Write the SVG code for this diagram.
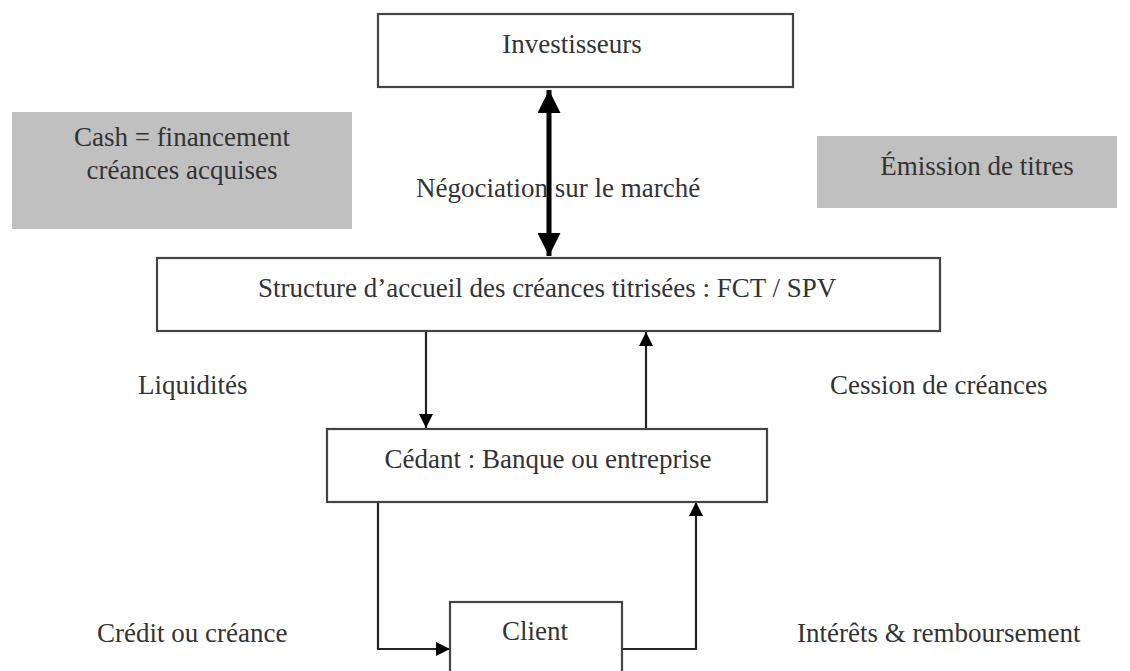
<svg xmlns="http://www.w3.org/2000/svg" width="1130" height="671" viewBox="0 0 1130 671">
  <style>
    .box { fill: #ffffff; stroke: #444444; stroke-width: 2.2; }
    .shade { fill: #c0c0c0; stroke: none; }
    .t { font-family: "Liberation Serif", "Times New Roman", serif; font-size: 27px; fill: #333333; }
    .c { text-anchor: middle; }
    .line { fill: none; stroke: #222222; stroke-width: 2.2; }
    .thick { fill: none; stroke: #000000; stroke-width: 5; }
  </style>
  <defs>
    <marker id="arrow" viewBox="0 0 10 10" refX="10" refY="5" markerWidth="14" markerHeight="14" markerUnits="userSpaceOnUse" orient="auto">
      <path d="M0,0 L10,5 L0,10 z" fill="#000000"/>
    </marker>
    <marker id="bigarrow" viewBox="0 0 10 10" refX="10" refY="5" markerWidth="23" markerHeight="23" markerUnits="userSpaceOnUse" orient="auto-start-reverse">
      <path d="M0,0 L10,5 L0,10 z" fill="#000000"/>
    </marker>
  </defs>

  <rect width="1130" height="671" fill="#ffffff"/>

  <!-- shaded annotation panels -->
  <g id="cash">
    <rect class="shade" x="12" y="112" width="340" height="117"/>
    <text class="t c" x="182" y="146">Cash = financement</text>
    <text class="t c" x="182" y="179">créances acquises</text>
  </g>
  <g id="emission">
    <rect class="shade" x="817" y="136" width="300" height="72"/>
    <text class="t c" x="977" y="175">Émission de titres</text>
  </g>

  <!-- connectors -->
  <g id="connectors">
    <line class="thick" x1="549" y1="90" x2="549" y2="256" marker-start="url(#bigarrow)" marker-end="url(#bigarrow)"/>
    <line class="line" x1="426" y1="332" x2="426" y2="428" marker-end="url(#arrow)"/>
    <line class="line" x1="646" y1="428" x2="646" y2="332" marker-end="url(#arrow)"/>
    <polyline class="line" points="378,502 378,649 450,649" marker-end="url(#arrow)"/>
    <polyline class="line" points="622,649 696,649 696,502" marker-end="url(#arrow)"/>
  </g>

  <!-- flow labels -->
  <g id="labels">
    <text class="t" x="416" y="197">Négociation sur le marché</text>
    <text class="t" x="138" y="394">Liquidités</text>
    <text class="t" x="830" y="394">Cession de créances</text>
    <text class="t" x="97" y="642">Crédit ou créance</text>
    <text class="t" x="797" y="642">Intérêts &amp; remboursement</text>
  </g>

  <!-- nodes -->
  <g id="investisseurs">
    <rect class="box" x="378" y="14" width="415" height="73"/>
    <text class="t c" x="572" y="53">Investisseurs</text>
  </g>
  <g id="structure">
    <rect class="box" x="157" y="258" width="783" height="73"/>
    <text class="t" x="258" y="297">Structure d’accueil des créances titrisées : FCT / SPV</text>
  </g>
  <g id="cedant">
    <rect class="box" x="327" y="429" width="440" height="73"/>
    <text class="t c" x="548" y="468">Cédant : Banque ou entreprise</text>
  </g>
  <g id="client">
    <rect class="box" x="450" y="602" width="172" height="80"/>
    <text class="t c" x="535" y="640">Client</text>
  </g>
</svg>
